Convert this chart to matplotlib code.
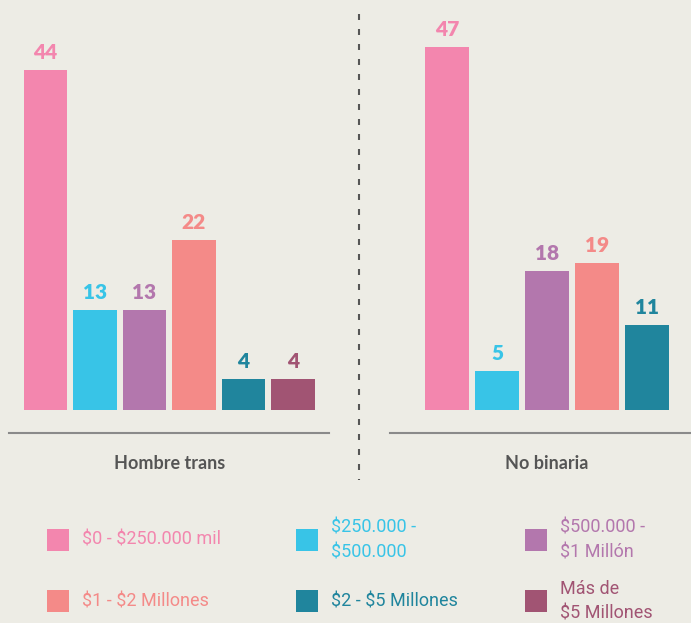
import matplotlib.pyplot as plt
from matplotlib.patches import Rectangle
from matplotlib.lines import Line2D

plt.rcParams["text.parse_math"] = False
plt.rcParams["lines.scale_dashes"] = False

# Data
groups = ["Hombre trans", "No binaria"]
ranges = ["$0 - $250.000 mil", "$250.000 -\n$500.000", "$500.000 -\n$1 Millón",
          "$1 - $2 Millones", "$2 - $5 Millones", "Más de\n$5 Millones"]
hombre_trans = [44, 13, 13, 22, 4, 4]
no_binaria = [47, 5, 18, 19, 11]
colors = ["#F386AE", "#38C4E7", "#B377AD", "#F48A88", "#20859D", "#A15473"]

bg = "#EDECE5"
W, H = 691, 623
fig = plt.figure(figsize=(W / 100, H / 100), dpi=100, facecolor=bg)

def px_axes(x0, x1, y_bottom):
    return fig.add_axes([x0 / W, (H - y_bottom) / H, (x1 - x0) / W, y_bottom / H])

ymax = 410 / 7.72
ymin = -23 / 7.72

panels = [
    (px_axes(9, 329, 433), hombre_trans, (-0.737, 5.727), 0.87),
    (px_axes(390, 691, 433), no_binaria, (-1.14, 4.88), 0.88),
]

for (ax, vals, xlim, width), name in zip(panels, groups):
    ax.set_facecolor(bg)
    x = list(range(len(vals)))
    ax.bar(x, vals, width=width, color=colors[:len(vals)])
    for xi, v, c in zip(x, vals, colors):
        ax.annotate(str(v), (xi, v), xytext=(0, 8), textcoords="offset points",
                    ha="center", va="baseline", color=c, fontsize=15,
                    fontweight="heavy", family="Lato")
    ax.set_xlim(*xlim)
    ax.set_ylim(ymin, ymax)
    for s in ["top", "left", "right"]:
        ax.spines[s].set_visible(False)
    ax.spines["bottom"].set_color("#8a8a8a")
    ax.spines["bottom"].set_linewidth(1.5)
    ax.set_xticks([])
    ax.set_yticks([])
    ax.annotate(name, xy=((len(vals) - 1) / 2, 0), xycoords=("data", "axes fraction"),
                xytext=(0, -26), textcoords="offset points", ha="center",
                va="baseline", fontsize=13, fontweight="bold", color="#555555",
                family="Lato", annotation_clip=False)

# dashed divider
fig.add_artist(Line2D([359 / W, 359 / W], [1 - 14 / H, 1 - 480 / H],
                      transform=fig.transFigure, color="#555555", lw=1.5,
                      dashes=(4.3, 6.5)))

# legend
col_x = [47, 296, 525]
row_y = [540, 601]
for i, (label, c) in enumerate(zip(ranges, colors)):
    cx = col_x[i % 3]
    cy = row_y[i // 3]
    fig.add_artist(Rectangle((cx / W, (H - cy - 11) / H), 22 / W, 22 / H,
                             transform=fig.transFigure, facecolor=c, edgecolor="none"))
    fig.text((cx + 35) / W, (H - cy) / H, label, color=c, fontsize=13,
             family="Roboto", fontweight="normal", va="center", ha="left",
             linespacing=1.45)

fig.savefig("out.png", dpi=100, facecolor=bg)
